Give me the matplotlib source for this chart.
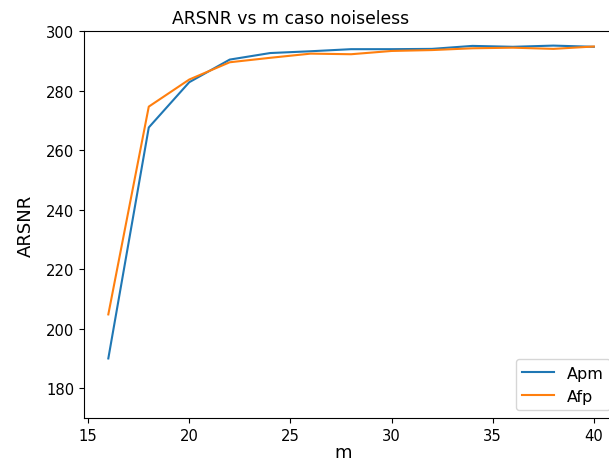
import matplotlib
matplotlib.use("Agg")
import matplotlib.pyplot as plt
import numpy as np

m = [16, 18, 20, 22, 24, 26, 28, 30, 32, 34, 36, 38, 40]
apm = [190.0, 267.6, 282.8, 290.4, 292.6, 293.2, 293.9, 293.9, 294.0, 295.0, 294.7, 295.1, 294.7]
afp = [204.8, 274.6, 283.7, 289.5, 291.0, 292.4, 292.2, 293.3, 293.6, 294.2, 294.4, 294.0, 294.8]

fig = plt.figure(figsize=(6.09, 4.64), dpi=100)
ax = fig.add_axes([0.138, 0.097, 0.877, 0.834])
ax.plot(m, apm, label='Apm')
ax.plot(m, afp, label='Afp')
ax.set_ylim(170, 300)
ax.set_xlim(14.8, 41.2)
ax.tick_params(labelsize=10.6)
ax.set_title('ARSNR vs m caso noiseless', fontsize=12.4, x=0.386)
ax.set_xlabel('m', fontsize=13, labelpad=0, x=0.485)
ax.set_ylabel('ARSNR', fontsize=13, labelpad=8)
ax.legend(loc='lower right', fontsize=11.5)
fig.savefig('out.png', dpi=100)
